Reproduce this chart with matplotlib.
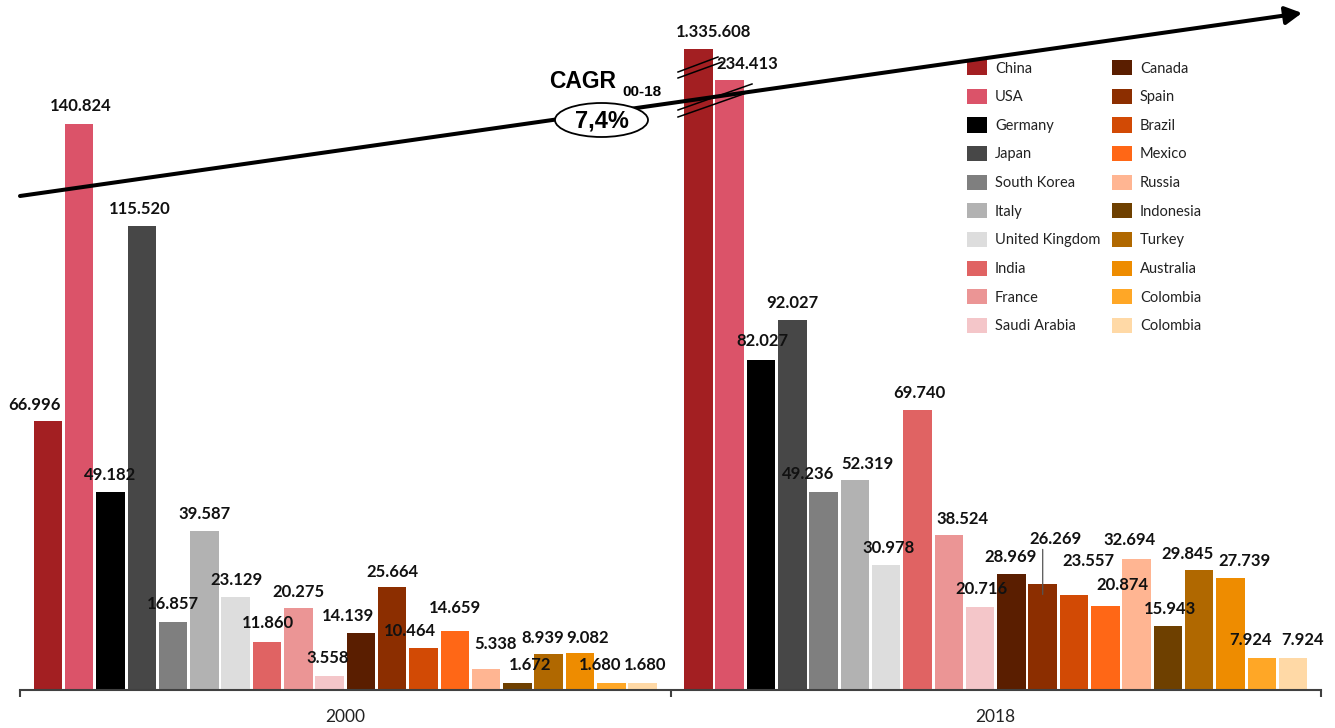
import numpy as np
import matplotlib
matplotlib.use('Agg')
import matplotlib.pyplot as plt
import matplotlib.transforms as mtransforms
from matplotlib.lines import Line2D
from matplotlib.patches import Ellipse, FancyArrowPatch

years = ['2000', '2018']
countries = ['China', 'USA', 'Germany', 'Japan', 'South Korea', 'Italy', 'United Kingdom',
             'India', 'France', 'Saudi Arabia', 'Canada', 'Spain', 'Brazil', 'Mexico',
             'Russia', 'Indonesia', 'Turkey', 'Australia', 'Colombia', 'Colombia']
vals_2000 = [66996, 140824, 49182, 115520, 16857, 39587, 23129, 11860, 20275, 3558,
             14139, 25664, 10464, 14659, 5338, 1672, 8939, 9082, 1680, 1680]
vals_2018 = [1335608, 234413, 82027, 92027, 49236, 52319, 30978, 69740, 38524, 20716,
             28969, 26269, 23557, 20874, 32694, 15943, 29845, 27739, 7924, 7924]
cagr_label = '7,4%'

colors = ['#A31F22', '#DB5369', '#000000', '#474747', '#7F7F7F', '#B2B2B2', '#DDDDDD',
          '#E06363', '#EB9595', '#F4C6C9', '#5A1E00', '#8C2E00', '#D24A05', '#FF6716',
          '#FFB592', '#6E4000', '#B06800', '#EE8C00', '#FFA726', '#FFD9A6']

# label nudges in pixels (dx, height of label centre above bar top)
dx_2000 = [-13, 2, 0, -2, 0, 0, 1, 1, 0, -2, -13, 0, -14, 0, 9, 13, -6, 8, -11, 2]
dy_2000 = [16, 18, 17, 17, 18, 17, 17, 19, 16, 18, 17, 15, 17, 23, 25, 18, 16, 15, 18, 18]
dx_2018 = [15, 18, 1, 0, -15, 13, 2, 2, 14, 1, -1, 13, 14, 17, -7, 2, -12, 14, -11, 9]
dy_2018 = [17, 16, 19, 17, 18, 16, 17, 17, 16, 18, 17, 45, 34, 21, 19, 17, 16, 17, 18, 18]

W, H = 1335, 728
label_font = ['Lato', 'DejaVu Sans']

# compressed y range above the break so the two huge 2018 bars fit
BREAK, C, P = 145000, 243.7, 0.292


def fwd(v):
    v = np.asarray(v, float)
    over = np.clip(v - BREAK, 0, None)
    return np.where(v > BREAK, BREAK + C * over ** P, v)


def inv(y):
    y = np.asarray(y, float)
    over = np.clip((y - BREAK) / C, 0, None)
    return np.where(y > BREAK, BREAK + over ** (1 / P), y)


def fpx(x, y):
    return (x / W, 1 - y / H)


fig = plt.figure(figsize=(W / 100, H / 100), dpi=100)
ax = fig.add_axes([20 / W, 38 / H, 1301 / W, 675 / H])
ax.set_yscale('function', functions=(fwd, inv))

step = 0.04812
width = 0.0438
x_groups = np.arange(len(years))
for i, name in enumerate(countries):
    xs = x_groups + (i - 9.5) * step
    ax.bar(xs, [vals_2000[i], vals_2018[i]], width=width, color=colors[i], label=name,
           linewidth=0, zorder=2)
    for g, (v, dx, dy) in enumerate([(vals_2000[i], dx_2000[i], dy_2000[i]),
                                     (vals_2018[i], dx_2018[i], dy_2018[i])]):
        ax.annotate(f'{v:,}'.replace(',', '.'), xy=(xs[g], v), xytext=(dx, dy),
                    textcoords='offset pixels', ha='center', va='center',
                    fontsize=12, fontweight='bold', family=label_font, color='#111111',
                    zorder=4, annotation_clip=False)

# leader line of the 2018 Spain label
sp = countries.index('Spain')
below = mtransforms.offset_copy(ax.transData, fig=fig, x=0, y=-10, units='dots')
ax.annotate('', xy=(1 + (sp - 9.5) * step, vals_2018[sp]), xycoords=below,
            xytext=(0, 45), textcoords='offset pixels',
            arrowprops=dict(arrowstyle='-', color='#555555', lw=0.9, shrinkA=0, shrinkB=0))

ax.set_xlim(-0.5, 1.5)
ax.set_ylim(0, float(inv(167900)))
ax.set_yticks([])
ax.set_xticks(x_groups)
ax.set_xticklabels(years, fontsize=12.5, family=label_font, color='#222222')
ax.set_xticks([-0.5, 0.5, 1.5], minor=True)
ax.tick_params(axis='x', which='major', length=0, pad=14)
ax.tick_params(axis='x', which='minor', length=5, width=1.5, color='#404040', direction='out')
for s in ['top', 'right', 'left']:
    ax.spines[s].set_visible(False)
ax.spines['bottom'].set_color('#404040')
ax.spines['bottom'].set_linewidth(1.5)

ax.legend(ncol=2, loc='upper left', bbox_to_anchor=fpx(967, 60), bbox_transform=fig.transFigure,
          frameon=False, borderpad=0, borderaxespad=0, prop={'family': label_font, 'size': 10.5},
          handlelength=1.37, handleheight=1.23, handletextpad=0.55, labelspacing=0.9,
          columnspacing=0.8, labelcolor='#222222')

# growth arrow
arrow = FancyArrowPatch(posA=fpx(20, 196), posB=fpx(1302, 13), transform=fig.transFigure,
                        arrowstyle='-|>,head_length=0.5,head_width=0.27', mutation_scale=20,
                        lw=2.9, color='black', shrinkA=0, shrinkB=0, zorder=2)
fig.add_artist(arrow)

# axis-break marks on the two cut bars
for (x0, y0, x1, y1) in [(678, 72, 718, 57), (678, 78, 722, 62),
                         (678, 110, 752, 84), (678, 117, 752, 91)]:
    (a, b), (c, d) = fpx(x0, y0), fpx(x1, y1)
    fig.add_artist(Line2D([a, c], [b, d], transform=fig.transFigure, color='black', lw=1.1, zorder=3))

fig.add_artist(Ellipse(fpx(601.5, 120), 93 / W, 34 / H, transform=fig.transFigure,
                       facecolor='white', edgecolor='black', lw=1.3, zorder=5))
fig.text(*fpx(601.5, 121), cagr_label, ha='center', va='center', fontsize=17, fontweight='bold',
         family='Liberation Sans', zorder=6)
fig.text(*fpx(583, 81), 'CAGR', ha='center', va='center', fontsize=16.5, fontweight='bold',
         family='Liberation Sans', zorder=6)
fig.text(*fpx(642, 92), '00-18', ha='center', va='center', fontsize=11, fontweight='bold',
         family='Liberation Sans', zorder=6)

fig.savefig('out.png', dpi=100)
